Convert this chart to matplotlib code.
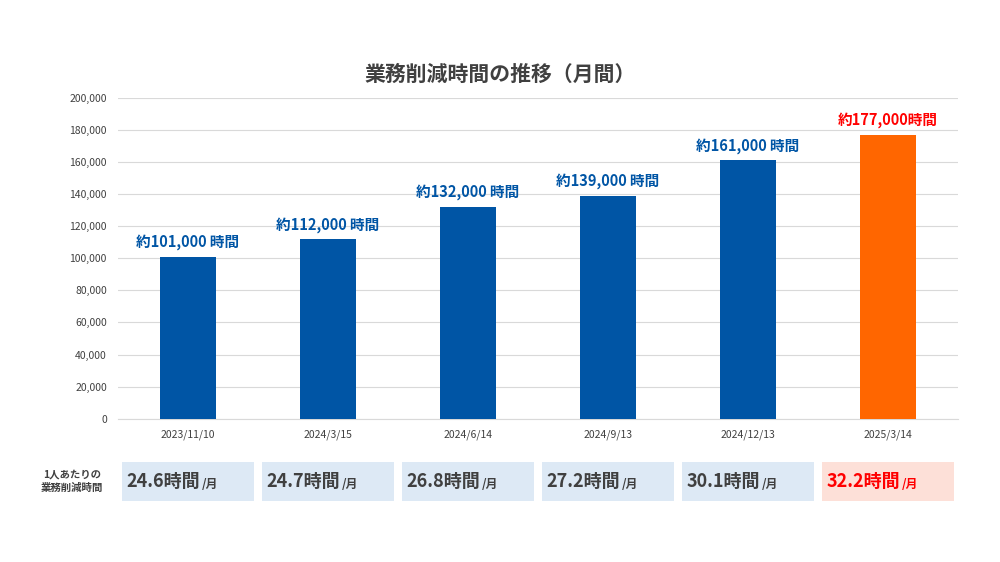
import matplotlib
matplotlib.use("Agg")
import matplotlib.pyplot as plt
from matplotlib.patches import Rectangle

plt.rcParams["font.family"] = "Noto Sans CJK JP"

categories = ["2023/11/10", "2024/3/15", "2024/6/14", "2024/9/13", "2024/12/13", "2025/3/14"]
values = [101000, 112000, 132000, 139000, 161000, 177000]
bar_labels = ["約101,000 時間", "約112,000 時間", "約132,000 時間", "約139,000 時間", "約161,000 時間", "約177,000時間"]
per_person = ["24.6", "24.7", "26.8", "27.2", "30.1", "32.2"]
yticks = list(range(0, 200001, 20000))

blue = "#0055a5"
orange = "#ff6600"
red = "#ff0000"
colors = [blue] * 5 + [orange]
label_colors = [blue] * 5 + [red]

fig = plt.figure(figsize=(10, 5.62), dpi=100)
ax = fig.add_axes([0.118, 0.255, 0.84, 0.571])
x = range(len(categories))
ax.bar(x, values, width=0.4, color=colors, zorder=3)
for i, (v, lab) in enumerate(zip(values, bar_labels)):
    ax.text(i, v + 4000, lab, ha="center", va="bottom", color=label_colors[i],
            fontsize=10.5, fontweight="bold")
ax.set_ylim(0, 200000)
ax.set_xlim(-0.5, 5.5)
ax.set_yticks(yticks)
ax.set_yticklabels([f"{t:,}" for t in yticks], fontsize=7.5, color="#404040")
ax.set_xticks(list(x))
ax.set_xticklabels(categories, fontsize=7.5, color="#404040")
ax.grid(axis="y", color="#d9d9d9", linewidth=0.8, zorder=0)
for s in ["top", "right", "left"]:
    ax.spines[s].set_visible(False)
ax.spines["bottom"].set_color("#d9d9d9")
ax.tick_params(length=0, pad=8)
fig.text(0.5, 0.868, "業務削減時間の推移（月間）", ha="center", va="center",
         fontsize=15, fontweight="bold", color="#404040")

# per-person row
fig.text(0.072, 0.143, "1人あたりの\n業務削減時間", ha="center", va="center",
         fontsize=7.5, fontweight="bold", color="#404040", linespacing=1.4)
for i, val in enumerate(per_person):
    cx = 0.188 + 0.14 * i
    last = i == len(per_person) - 1
    fig.patches.append(Rectangle((cx - 0.066, 0.108), 0.132, 0.07, transform=fig.transFigure,
                                 facecolor="#fde0d8" if last else "#dde9f5", edgecolor="none"))
    c = red if last else "#404040"
    fig.text(cx + 0.012, 0.143, f"{val}時間", ha="right", va="center", fontsize=13,
             fontweight="bold", color=c)
    fig.text(cx + 0.014, 0.138, "/月", ha="left", va="center", fontsize=8.5,
             fontweight="bold", color=c)

fig.savefig("out.png", dpi=100, facecolor="white")
